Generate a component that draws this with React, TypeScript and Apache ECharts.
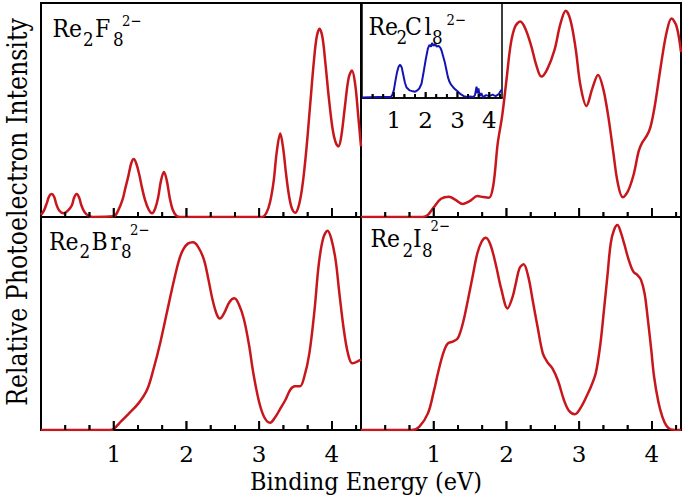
import React, { useEffect, useRef } from "react";
import * as echarts from "echarts";

const FONT = "DejaVu Serif";
const RED = "#c8161d";
const BLUE = "#1414b4";

// Re2F8 2- (top-left)
const f8X = [0, 0.04, 0.08, 0.11, 0.144, 0.18, 0.21, 0.25, 0.31, 0.37, 0.425, 0.455, 0.49, 0.525, 0.555, 0.6, 0.66, 0.72, 1.0, 1.06, 1.12, 1.16, 1.2, 1.24, 1.275, 1.31, 1.35, 1.39, 1.43, 1.48, 1.527, 1.57, 1.61, 1.65, 1.69, 1.73, 1.77, 1.81, 1.86, 1.92, 3.04, 3.1, 3.15, 3.2, 3.24, 3.29, 3.33, 3.37, 3.41, 3.45, 3.496, 3.55, 3.6, 3.65, 3.7, 3.75, 3.79, 3.83, 3.87, 3.91, 3.96, 4.01, 4.05, 4.09, 4.13, 4.18, 4.23, 4.275, 4.32, 4.36, 4.4];
const f8Y = [0.01, 0.03, 0.065, 0.095, 0.107, 0.095, 0.06, 0.03, 0.017, 0.03, 0.055, 0.09, 0.107, 0.09, 0.055, 0.022, 0.004, 0, 0.003, 0.03, 0.08, 0.135, 0.19, 0.25, 0.271, 0.25, 0.2, 0.135, 0.08, 0.035, 0.017, 0.04, 0.09, 0.17, 0.21, 0.17, 0.09, 0.035, 0.006, 0, 0, 0.02, 0.07, 0.17, 0.3, 0.39, 0.32, 0.2, 0.1, 0.04, 0.02, 0.06, 0.16, 0.32, 0.52, 0.72, 0.84, 0.88, 0.84, 0.72, 0.55, 0.41, 0.35, 0.33, 0.38, 0.52, 0.65, 0.684, 0.62, 0.48, 0.33];

// Re2Cl8 2- (top-right, calculated)
const cl8X = [0, 0.85, 0.92, 1.0, 1.1, 1.21, 1.3, 1.4, 1.5, 1.6, 1.68, 1.76, 1.82, 1.88, 1.94, 2.0, 2.06, 2.12, 2.19, 2.26, 2.34, 2.41, 2.48, 2.56, 2.66, 2.74, 2.816, 2.88, 2.95, 3.02, 3.1, 3.18, 3.26, 3.33, 3.4, 3.47, 3.53, 3.6, 3.67, 3.75, 3.82, 3.87, 3.93, 3.98, 4.04, 4.12, 4.2, 4.27, 4.34, 4.4];
const cl8Y = [0, 0, 0.01, 0.045, 0.085, 0.095, 0.08, 0.061, 0.075, 0.098, 0.093, 0.09, 0.15, 0.344, 0.47, 0.64, 0.81, 0.89, 0.913, 0.88, 0.8, 0.71, 0.656, 0.69, 0.78, 0.9, 0.964, 0.92, 0.79, 0.61, 0.519, 0.6, 0.664, 0.6, 0.47, 0.3, 0.16, 0.092, 0.12, 0.2, 0.31, 0.35, 0.38, 0.42, 0.52, 0.7, 0.86, 0.928, 0.89, 0.77];

// Re2Cl8 2- experimental (inset)
const cl8ExpX = [0, 0.5, 0.9, 0.95, 1.0, 1.05, 1.1, 1.15, 1.2, 1.25, 1.3, 1.35, 1.4, 1.5, 1.6, 1.67, 1.74, 1.8, 1.87, 1.93, 2.0, 2.07, 2.12, 2.17, 2.2, 2.25, 2.3, 2.35, 2.4, 2.46, 2.5, 2.55, 2.6, 2.65, 2.7, 2.75, 2.8, 2.85, 2.9, 3.0, 3.1, 3.2, 3.3, 3.4, 3.5, 3.55, 3.6, 3.63, 3.66, 3.7, 3.75, 3.8, 3.9, 4.0, 4.1, 4.2, 4.3, 4.35, 4.4];
const cl8ExpY = [0.005, 0.01, 0.01, 0.03, 0.08, 0.18, 0.27, 0.33, 0.35, 0.32, 0.24, 0.16, 0.11, 0.08, 0.07, 0.066, 0.08, 0.1, 0.15, 0.26, 0.4, 0.52, 0.56, 0.54, 0.58, 0.55, 0.57, 0.54, 0.55, 0.53, 0.5, 0.44, 0.38, 0.3, 0.22, 0.17, 0.14, 0.12, 0.1, 0.07, 0.04, 0.02, 0.01, 0.015, 0.01, 0.03, 0.12, 0.05, 0.1, 0.02, 0.05, 0.01, 0.03, 0.02, 0.035, 0.02, 0.04, 0.07, 0.09];

// Re2Br8 2- (bottom-left)
const br8X = [0, 0.95, 1.0, 1.1, 1.2, 1.34, 1.46, 1.55, 1.64, 1.73, 1.82, 1.9, 1.96, 2.02, 2.09, 2.16, 2.24, 2.3, 2.36, 2.42, 2.46, 2.52, 2.59, 2.66, 2.72, 2.79, 2.86, 2.92, 3.0, 3.07, 3.15, 3.22, 3.29, 3.36, 3.43, 3.49, 3.56, 3.62, 3.69, 3.76, 3.82, 3.88, 3.94, 3.99, 4.05, 4.1, 4.16, 4.22, 4.28, 4.34, 4.4];
const br8Y = [0, 0, 0.005, 0.04, 0.075, 0.125, 0.19, 0.29, 0.41, 0.55, 0.69, 0.8, 0.85, 0.875, 0.881, 0.86, 0.8, 0.71, 0.61, 0.54, 0.524, 0.55, 0.6, 0.618, 0.59, 0.52, 0.4, 0.266, 0.13, 0.06, 0.034, 0.06, 0.1, 0.141, 0.19, 0.205, 0.205, 0.25, 0.36, 0.56, 0.78, 0.9, 0.936, 0.9, 0.8, 0.65, 0.48, 0.36, 0.313, 0.32, 0.33];

// Re2I8 2- (bottom-right)
const i8X = [0, 0.7, 0.8, 0.92, 1.0, 1.06, 1.13, 1.19, 1.26, 1.33, 1.4, 1.47, 1.54, 1.6, 1.66, 1.717, 1.78, 1.85, 1.93, 2.015, 2.08, 2.13, 2.18, 2.235, 2.3, 2.36, 2.43, 2.5, 2.56, 2.63, 2.71, 2.79, 2.86, 2.94, 3.03, 3.11, 3.17, 3.23, 3.29, 3.34, 3.39, 3.434, 3.48, 3.526, 3.57, 3.617, 3.68, 3.745, 3.8, 3.85, 3.9, 3.94, 3.99, 4.03, 4.09, 4.144, 4.2, 4.26, 4.4];
const i8Y = [0, 0, 0.015, 0.078, 0.18, 0.27, 0.36, 0.405, 0.415, 0.43, 0.5, 0.61, 0.73, 0.83, 0.885, 0.903, 0.87, 0.782, 0.66, 0.571, 0.62, 0.69, 0.76, 0.778, 0.72, 0.61, 0.48, 0.36, 0.32, 0.29, 0.23, 0.141, 0.09, 0.074, 0.11, 0.164, 0.21, 0.27, 0.4, 0.56, 0.73, 0.877, 0.94, 0.962, 0.93, 0.877, 0.8, 0.743, 0.728, 0.705, 0.64, 0.532, 0.38, 0.25, 0.13, 0.062, 0.02, 0.003, 0];

const tickLabels = ["1", "2", "3", "4"];
const majorTicks = [1, 2, 3, 4];
const minorTicks = [1 / 3, 2 / 3, 4 / 3, 5 / 3, 7 / 3, 8 / 3, 10 / 3, 11 / 3, 13 / 3];
const yAxisName = "Relative Photoelectron Intensity";
const xAxisName = "Binding Energy (eV)";

type Part = { t: string; x: number; b: number; s: number };
const BIG = 25;
const SUB = 19;
const SUP = 15;
const labelF: Part[] = [
  { t: "Re", x: 52.5, b: 36.7, s: BIG },
  { t: "2", x: 83, b: 46, s: SUB },
  { t: "F", x: 95, b: 36.7, s: BIG },
  { t: "8", x: 113, b: 46, s: SUB },
  { t: "2\u2212", x: 122, b: 26, s: SUP },
];
const labelCl: Part[] = [
  { t: "Re", x: 368.5, b: 35, s: BIG },
  { t: "2", x: 396.5, b: 43.5, s: SUB },
  { t: "C", x: 405, b: 35, s: BIG },
  { t: "l", x: 424.5, b: 35, s: BIG },
  { t: "8", x: 432, b: 43.5, s: SUB },
  { t: "2\u2212", x: 446.5, b: 25, s: SUP },
];
const labelBr: Part[] = [
  { t: "Re", x: 49, b: 250, s: BIG },
  { t: "2", x: 79.5, b: 257.5, s: SUB },
  { t: "B", x: 91.5, b: 250, s: BIG },
  { t: "r", x: 110.5, b: 250, s: BIG },
  { t: "8", x: 121, b: 257.5, s: SUB },
  { t: "2\u2212", x: 130, b: 235, s: SUP },
];
const labelI: Part[] = [
  { t: "Re", x: 370.5, b: 246.7, s: BIG },
  { t: "2", x: 402.5, b: 256.7, s: SUB },
  { t: "I", x: 413, b: 246.7, s: BIG },
  { t: "8", x: 422, b: 256.7, s: SUB },
  { t: "2\u2212", x: 430.5, b: 230.7, s: SUP },
];

const CENTRAL = 0.346;
const PART_SX = 0.88;
const TICK_W = 1.8;

function pairs(xs: number[], ys: number[]) {
  return xs.map((x, i) => [x, ys[i]]);
}

let measureCtx: CanvasRenderingContext2D | null = null;
function textWidth(text: string, size: number) {
  if (!measureCtx) measureCtx = document.createElement("canvas").getContext("2d");
  if (!measureCtx) return text.length * size * 0.55;
  measureCtx.font = `${size}px "${FONT}"`;
  return measureCtx.measureText(text).width;
}

function partsToGraphic(parts: Part[]) {
  return parts.map((p) => ({
    type: "text",
    x: p.x,
    y: p.b - CENTRAL * p.s,
    scaleX: PART_SX,
    z: 100,
    style: {
      text: p.t,
      fontSize: p.s,
      fontFamily: FONT,
      fill: "#000",
      align: "left",
      verticalAlign: "middle",
    },
  }));
}

export default function App() {
  const ref = useRef<HTMLDivElement>(null);
  useEffect(() => {
    if (!ref.current) return;
    const chart = echarts.init(ref.current, null, { renderer: "svg" });

    const panels = [
      { left: 41, top: 3, width: 320, height: 214, labels: false, major: 9, minor: 5, bw: 2, margin: 12 },
      { left: 361, top: 3, width: 320, height: 214, labels: false, major: 9, minor: 5, bw: 2, margin: 12 },
      { left: 41, top: 217, width: 320, height: 213, labels: true, major: 9, minor: 5, bw: 2, margin: 12 },
      { left: 361, top: 217, width: 320, height: 213, labels: true, major: 9, minor: 5, bw: 2, margin: 12 },
      { left: 362, top: 3, width: 140, height: 95, labels: true, major: 6, minor: 4, bw: 1.5, margin: 10.5 },
    ];

    const fmt = (v: number) => {
      const r = Math.round(v);
      if (Math.abs(v - r) < 1e-6 && r >= 1 && r <= 4) return tickLabels[r - 1];
      return "";
    };

    const grid = panels.map((p) => ({
      left: p.left, top: p.top, width: p.width, height: p.height,
      show: true, borderColor: "#000", borderWidth: p.bw, backgroundColor: "transparent",
    }));

    const xAxis: any[] = [];
    const yAxis: any[] = [];
    panels.forEach((p, gi) => {
      xAxis.push({
        type: "value", gridIndex: gi, position: "bottom", min: 0, max: 4.4, interval: 1,
        axisLine: { show: true, onZero: false, lineStyle: { color: "#000", width: p.bw } },
        splitLine: { show: false },
        axisTick: { show: false },
        axisLabel: {
          show: p.labels, formatter: fmt, fontSize: 23, fontFamily: FONT, color: "#000",
          margin: p.margin, showMinLabel: false, showMaxLabel: false,
        },
      });
      yAxis.push({ type: "value", gridIndex: gi, min: 0, max: 1, show: false });
    });

    const tickData = [
      ...majorTicks.map((v) => [v, 0, 1]),
      ...minorTicks.map((v) => [v, 0, 0]),
    ];

    // tick marks as filled rects, drawn from their top end down to the axis
    const tickSeries = (gi: number) => {
      const p = panels[gi];
      return {
        type: "custom",
        xAxisIndex: gi,
        yAxisIndex: gi,
        data: tickData,
        encode: { x: 0, y: 1 },
        silent: true,
        clip: false,
        z: 8,
        renderItem: (_params: any, api: any) => {
          const pt = api.coord([api.value(0), api.value(1)]);
          const len = api.value(2) === 1 ? p.major : p.minor;
          return {
            type: "rect",
            shape: { x: pt[0] - TICK_W / 2, y: pt[1] - len, width: TICK_W, height: len },
            style: { fill: "#000" },
          };
        },
      };
    };

    const lineSeries = (gi: number, data: number[][], color: string, width: number, smooth: number | boolean) => ({
      type: "line", xAxisIndex: gi, yAxisIndex: gi, data, smooth,
      symbol: "none", showSymbol: false, lineStyle: { color, width }, clip: true, z: 6,
    });

    const yFs = 27;
    const yTarget = 388;
    const xFs = 24;
    const xTarget = 232;

    const textGraphics: any[] = [
      ...partsToGraphic(labelF),
      ...partsToGraphic(labelCl),
      ...partsToGraphic(labelBr),
      ...partsToGraphic(labelI),
      {
        type: "text",
        x: 26.7 - CENTRAL * yFs,
        y: 212,
        rotation: Math.PI / 2,
        scaleX: yTarget / textWidth(yAxisName, yFs),
        style: {
          text: yAxisName, fontSize: yFs, fontFamily: FONT, fill: "#000",
          align: "center", verticalAlign: "middle",
        },
      },
      {
        type: "text",
        x: 366,
        y: 490 - CENTRAL * xFs,
        scaleX: xTarget / textWidth(xAxisName, xFs),
        style: {
          text: xAxisName, fontSize: xFs, fontFamily: FONT, fill: "#000",
          align: "center", verticalAlign: "middle",
        },
      },
    ];

    chart.setOption({
      animation: false,
      backgroundColor: "#fff",
      grid,
      xAxis,
      yAxis,
      series: [
        lineSeries(0, pairs(f8X, f8Y), RED, 2.5, 0.35),
        lineSeries(1, pairs(cl8X, cl8Y), RED, 2.5, 0.35),
        lineSeries(2, pairs(br8X, br8Y), RED, 2.5, 0.35),
        lineSeries(3, pairs(i8X, i8Y), RED, 2.5, 0.35),
        lineSeries(4, pairs(cl8ExpX, cl8ExpY), BLUE, 2, false),
        tickSeries(0),
        tickSeries(1),
        tickSeries(2),
        tickSeries(3),
        tickSeries(4),
      ],
      graphic: textGraphics,
    });

    // same tick marks again as graphic rects, placed through each axis's own scale
    const tickGraphics: any[] = [];
    panels.forEach((p, gi) => {
      const y0 = chart.convertToPixel({ yAxisIndex: gi }, 0) as unknown as number;
      const add = (v: number, len: number) => {
        const x = chart.convertToPixel({ xAxisIndex: gi }, v) as unknown as number;
        if (typeof x !== "number" || typeof y0 !== "number" || !isFinite(x) || !isFinite(y0)) return;
        tickGraphics.push({
          type: "rect",
          z: 90,
          silent: true,
          shape: { x: x - TICK_W / 2, y: y0 - len, width: TICK_W, height: len },
          style: { fill: "#000" },
        });
      };
      majorTicks.forEach((v) => add(v, p.major));
      minorTicks.forEach((v) => add(v, p.minor));
    });
    if (tickGraphics.length) {
      chart.setOption({ graphic: [...textGraphics, ...tickGraphics] });
    }

    return () => chart.dispose();
  }, []);
  return (
    <div
      ref={ref}
      style={{ position: "fixed", left: 0, top: 0, width: 685, height: 500 }}
    />
  );
}
